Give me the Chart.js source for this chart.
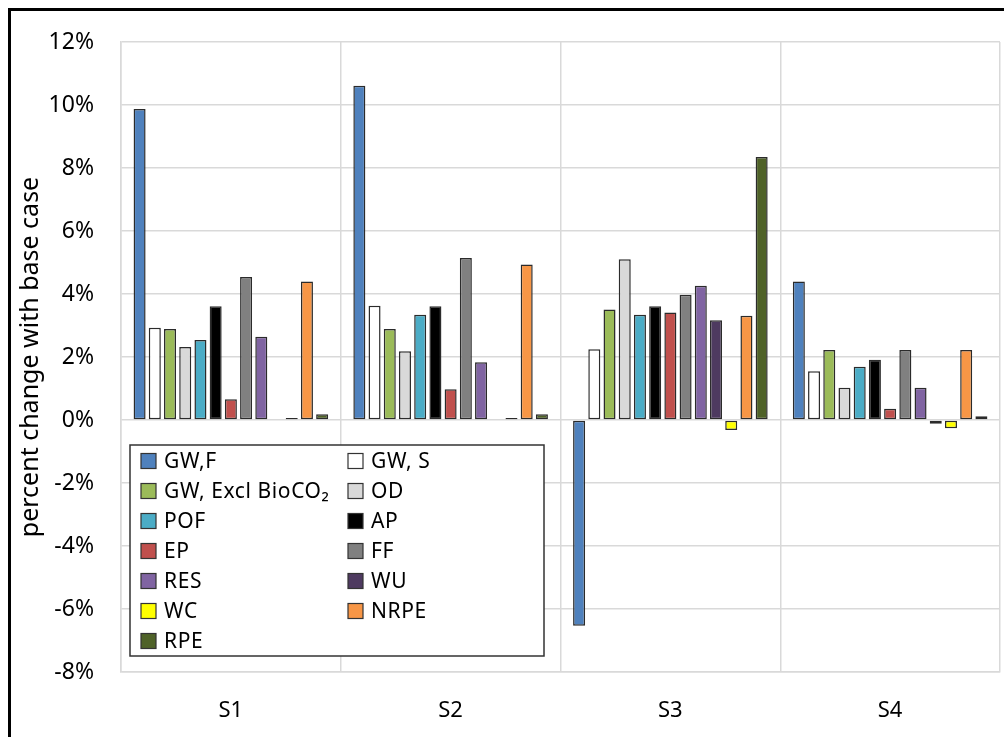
<!DOCTYPE html>
<html>
<head>
<meta charset="utf-8">
<script src="https://cdn.jsdelivr.net/npm/chart.js@4"></script>
<style>
  html, body { margin: 0; padding: 0; background: #fff; }
  #wrap { position: relative; width: 1004px; height: 737px; overflow: hidden; }
  #frame { position: absolute; left: 8px; top: 8px; right: -10px; bottom: -10px;
           border-left: 3px solid #000; border-top: 3px solid #000; pointer-events: none; }
</style>
</head>
<body>
<div id="wrap">
  <canvas id="grafico" width="1004" height="737"></canvas>
  <div id="frame"></div>
</div>
<script>
// categorias e séries (valores em %)
const categorias = ['S1', 'S2', 'S3', 'S4'];
const yTicks = [-8, -6, -4, -2, 0, 2, 4, 6, 8, 10, 12];

const gwF      = [9.87, 10.61, -6.53, 4.40];
const gwS      = [2.93, 3.63, 2.25, 1.55];
const gwExcl   = [2.89, 2.89, 3.51, 2.22];
const od       = [2.32, 2.18, 5.10, 1.02];
const pof      = [2.54, 3.34, 3.34, 1.69];
const ap       = [3.61, 3.61, 3.61, 1.91];
const ep       = [0.66, 0.98, 3.41, 0.36];
const ff       = [4.54, 5.14, 3.98, 2.22];
const res      = [2.64, 1.83, 4.26, 1.02];
const wu       = [0, 0, 3.17, -0.12];
const wc       = [0.06, 0.06, -0.32, -0.26];
const nrpe     = [4.40, 4.94, 3.31, 2.22];
const rpe      = [0.18, 0.18, 8.35, 0.12];

const nomes = ['GW,F', 'GW, S', 'GW, Excl BioCO\u2082', 'OD', 'POF', 'AP', 'EP', 'FF', 'RES', 'WU', 'WC', 'NRPE', 'RPE'];
const valores = [gwF, gwS, gwExcl, od, pof, ap, ep, ff, res, wu, wc, nrpe, rpe];
const cores = ['#4F81BD', '#FFFFFF', '#9BBB59', '#D9D9D9', '#4BACC6', '#000000', '#C0504D',
               '#808080', '#8064A2', '#4E3A60', '#FFFF00', '#F79646', '#4F6228'];

const fonte = "'Noto Sans', 'DejaVu Sans', sans-serif";

// legenda desenhada dentro da area do grafico
const legendaCaixa = {
  id: 'legendaCaixa',
  afterDraw(chart) {
    const ctx = chart.ctx;
    const x0 = 130, y0 = 445, w = 414, h = 211;
    ctx.save();
    ctx.fillStyle = '#fff';
    ctx.fillRect(x0, y0, w, h);
    ctx.strokeStyle = '#333';
    ctx.lineWidth = 1.5;
    ctx.strokeRect(x0, y0, w, h);
    ctx.font = '21px ' + fonte;
    ctx.letterSpacing = '0.6px';
    ctx.textBaseline = 'middle';
    chart.data.datasets.forEach((ds, i) => {
      const col = i % 2, row = Math.floor(i / 2);
      const sx = x0 + 11 + col * 207;
      const cy = y0 + 16 + row * 30;
      ctx.fillStyle = ds.backgroundColor;
      ctx.fillRect(sx, cy - 7.5, 15, 15);
      ctx.strokeStyle = '#333';
      ctx.lineWidth = 1.2;
      ctx.strokeRect(sx, cy - 7.5, 15, 15);
      ctx.fillStyle = '#000';
      ctx.fillText(ds.label, sx + 23, cy + 1);
    });
    ctx.restore();
  }
};

const ctx = document.getElementById('grafico').getContext('2d');

let grafico = new Chart(ctx, {
  type: 'bar',
  data: {
    labels: categorias,
    datasets: nomes.map((n, i) => ({
      label: n,
      data: valores[i],
      backgroundColor: cores[i],
      borderColor: '#2b2b2b',
      borderWidth: 1.5,
      borderSkipped: false,
      categoryPercentage: 0.9,
      barPercentage: 0.79
    }))
  },
  plugins: [legendaCaixa],
  options: {
    responsive: false,
    animation: false,
    devicePixelRatio: 1,
    layout: { padding: { top: 42, right: 4, left: 0, bottom: 0 } },
    plugins: {
      legend: { display: false },
      tooltip: { enabled: false }
    },
    scales: {
      x: {
        grid: { color: '#d9d9d9', lineWidth: 1.5, drawTicks: false },
        border: { color: '#d9d9d9', width: 1.5 },
        ticks: { color: '#000', padding: 26, font: { family: fonte, size: 22 } },
        afterFit(axis) { axis.height = 65; }
      },
      y: {
        min: -8,
        max: 12,
        afterBuildTicks(axis) { axis.ticks = yTicks.map(v => ({ value: v })); },
        grid: { color: '#d9d9d9', lineWidth: 1.5, drawTicks: false },
        border: { color: '#d9d9d9', width: 1.5 },
        ticks: {
          color: '#000',
          padding: 27,
          font: { family: fonte, size: 23 },
          callback: v => v + '%'
        },
        title: {
          display: true,
          text: 'percent change with base case',
          color: '#000',
          font: { family: fonte, size: 25 },
          padding: { top: 16, bottom: 0 }
        },
        afterFit(axis) { axis.width = 121; }
      }
    }
  }
});
</script>
</body>
</html>
